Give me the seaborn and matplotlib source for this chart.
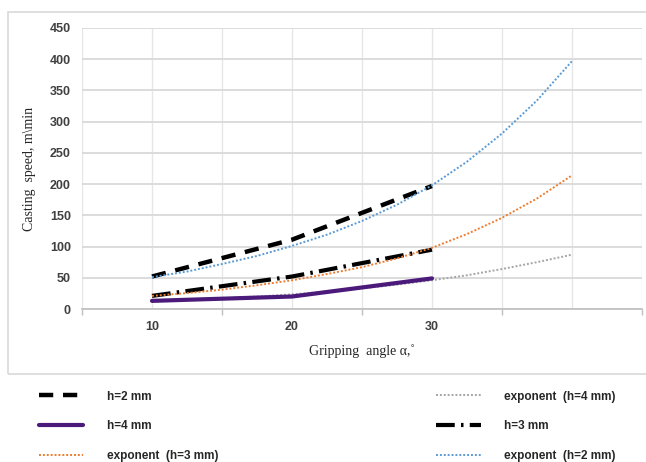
import matplotlib
matplotlib.use("Agg")
import matplotlib.pyplot as plt
import seaborn as sns
import pandas as pd
from matplotlib.patches import Rectangle

# ---- data ----
angle_meas = [10, 20, 30]
h2_meas = [52, 111, 197]
h3_meas = [21, 52, 95]
h4_meas = [13, 20, 49]

angle_fit = [10, 12.5, 15, 17.5, 20, 22.5, 25, 27.5, 30, 32.5, 35, 37.5, 40]
exp_h2 = [51, 60, 72, 85, 101, 119, 141, 167, 198, 236, 281, 334, 397]
exp_h3 = [21, 25.5, 31, 38, 46, 56, 67, 81, 98, 120, 146, 177, 214]
exp_h4 = [12.5, 14.5, 17, 20, 23.5, 28, 33, 39, 46, 54, 64, 75, 87]

x_ticks = [10, 20, 30]
y_ticks = [0, 50, 100, 150, 200, 250, 300, 350, 400, 450]

sns.set_theme(style="white")
plt.rcParams['font.family'] = ['Liberation Sans', 'DejaVu Sans']

fig = plt.figure(figsize=(6.46, 4.62), dpi=100)
ax = fig.add_axes([82/646, 1 - 309/462, (642-82)/646, (309-28)/462])

# outer chart border
fig.patches.append(Rectangle((8/646, 1 - 374/462), 1.0, (374-12)/462,
                             transform=fig.transFigure, fill=False,
                             edgecolor='#d9d9d9', linewidth=1.2, zorder=0))

meas = pd.DataFrame({'angle': angle_meas, 'h2': h2_meas, 'h3': h3_meas, 'h4': h4_meas})
fit = pd.DataFrame({'angle': angle_fit, 'e2': exp_h2, 'e3': exp_h3, 'e4': exp_h4})

handles = {}
handles['e4'] = sns.lineplot(data=fit, x='angle', y='e4', ax=ax, color='#a5a5a5',
                             linestyle=(0, (1, 1)), linewidth=1.4, zorder=2).lines[-1]
handles['h4'] = sns.lineplot(data=meas, x='angle', y='h4', ax=ax, color='#4b1a7a',
                             linewidth=3.0, zorder=3).lines[-1]
handles['e3'] = sns.lineplot(data=fit, x='angle', y='e3', ax=ax, color='#ed7d31',
                             linestyle=(0, (1, 1)), linewidth=1.4, zorder=4).lines[-1]
handles['h3'] = sns.lineplot(data=meas, x='angle', y='h3', ax=ax, color='black',
                             linestyle=(0, (4.5, 1.5, 0.6, 1.5)), linewidth=3.0,
                             zorder=3).lines[-1]
handles['e2'] = sns.lineplot(data=fit, x='angle', y='e2', ax=ax, color='#5b9bd5',
                             linestyle=(0, (1, 1)), linewidth=1.4, zorder=4).lines[-1]
handles['h2'] = sns.lineplot(data=meas, x='angle', y='h2', ax=ax, color='black',
                             linestyle=(0, (3.2, 2.2)), linewidth=3.2, zorder=3).lines[-1]

ax.set_xlim(5, 45)
ax.set_ylim(0, 450)
ax.set_xticks(x_ticks)
ax.set_xticklabels([str(t) for t in x_ticks])
ax.set_xticks([5, 15, 25, 35, 45], minor=True)
ax.set_yticks(y_ticks)
ax.tick_params(axis='x', which='major', length=0, pad=9, labelsize=9, labelcolor='#404040')
ax.tick_params(axis='x', which='minor', length=4, color='#bfbfbf', width=1, direction='out', bottom=True)
ax.tick_params(axis='y', length=0, pad=8, labelsize=9, labelcolor='#404040')
for lab in ax.get_xticklabels() + ax.get_yticklabels():
    lab.set_fontweight('bold')

for gx in range(5, 46, 5):
    ax.axvline(gx, color='#e6e6e6', linewidth=1.0, zorder=0)
for gy in y_ticks:
    ax.axhline(gy, color='#d9d9d9', linewidth=1.3, zorder=0)

for s in ['top', 'right', 'left']:
    ax.spines[s].set_visible(False)
ax.spines['bottom'].set_color('#bfbfbf')
ax.spines['bottom'].set_linewidth(1.2)

ax.set_xlabel('Gripping  angle \u03b1,\u02da', family=['Liberation Serif', 'DejaVu Serif'],
              fontsize=10, color='#262626', labelpad=8)
ax.set_ylabel('Casting  speed, m\\min', family=['Liberation Serif', 'DejaVu Serif'],
              fontsize=10, color='#262626', labelpad=10)

order = ['h2', 'h4', 'e3', 'e4', 'h3', 'e2']
labels = {'h2': 'h=2 mm', 'h4': 'h=4 mm', 'e3': 'exponent  (h=3 mm)',
          'e4': 'exponent  (h=4 mm)', 'h3': 'h=3 mm', 'e2': 'exponent  (h=2 mm)'}
leg = fig.legend([handles[k] for k in order], [labels[k] for k in order],
                 ncol=2, loc='upper left', bbox_to_anchor=(28/646, 1 - 380/462),
                 frameon=False, fontsize=8.5, handlelength=3.8, handletextpad=2.0,
                 columnspacing=18.4, labelspacing=1.5)
for t in leg.get_texts():
    t.set_fontweight('bold')
    t.set_color('#262626')

fig.savefig('out.png', dpi=100)
